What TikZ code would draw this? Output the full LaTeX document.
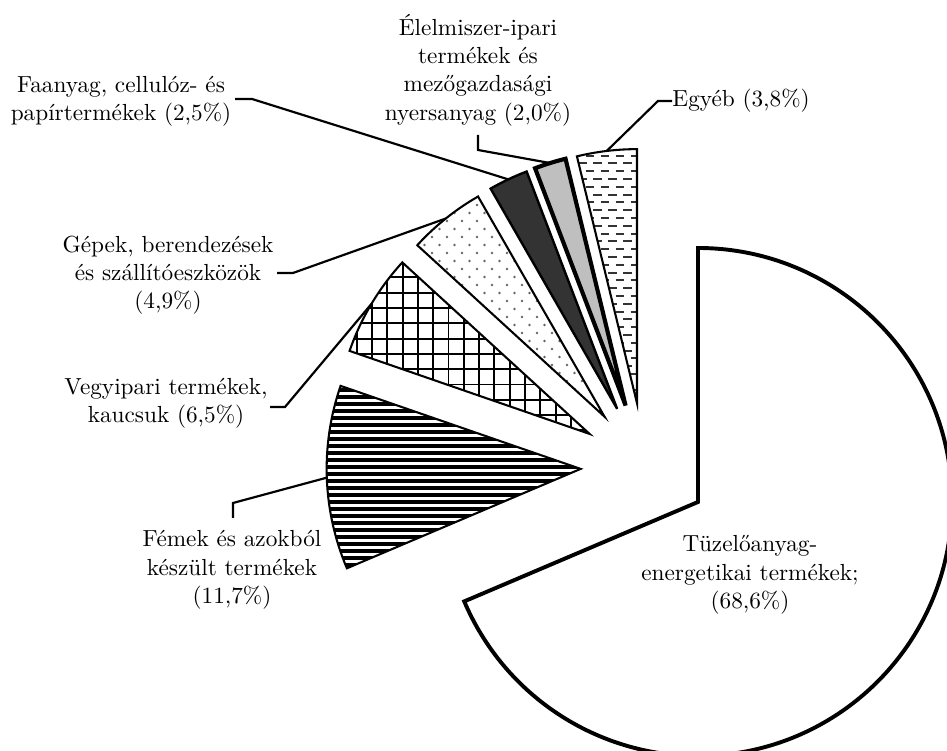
\documentclass[tikz,border=0pt]{standalone}
\usetikzlibrary{calc}
\begin{document}
\begin{tikzpicture}[x=0.46pt,y=0.46pt,
  slice/.style={draw=black,line width=0.95pt,line join=miter},
  bigslice/.style={draw=black,fill=white,line width=1.8pt,line join=miter},
  thickslice/.style={draw=black,line width=1.9pt,line join=miter},
  leader/.style={draw=black,line width=1.0pt},
  lbl/.style={align=center,inner sep=0pt,font=\fontsize{10.7}{13}\selectfont},
  stripe/.style={draw=black,line width=1.4pt},
  gridline/.style={draw=black,line width=0.9pt},
  egdash/.style={draw=black!80,line width=0.95pt},
  dotfill/.style={fill=black!60}]
\useasboundingbox (0,0) rectangle (947,751);
\clip (0,0) rectangle (947,751);
\def\R{116.84pt}
\coordinate (C) at (644.6,284.3);
% apexes of the exploded slices
\coordinate (a1) at ($(C)+(-33.48:64)$);
\coordinate (a2) at ($(C)+(181.98:64)$);
\coordinate (a3) at ($(C)+(149.22:64)$);
\coordinate (a4) at ($(C)+(128.70:64)$);
\coordinate (a5) at ($(C)+(115.38:64)$);
\coordinate (a6) at ($(C)+(107.28:64)$);
\coordinate (a7) at ($(C)+(96.84:64)$);
% arc midpoints
\coordinate (m2) at ($(a2)+(181.98:254)$);
\coordinate (m3) at ($(a3)+(149.22:254)$);
\coordinate (m4) at ($(a4)+(128.70:254)$);
\coordinate (m5) at ($(a5)+(115.38:254)$);
\coordinate (m6) at ($(a6)+(107.28:254)$);
\coordinate (m7) at ($(a7)+(96.84:254)$);

% 1 big slice
\draw[bigslice] (a1) -- ++(90:254) arc[start angle=90,end angle=-156.96,radius=\R] -- cycle;

% 2 Femek: horizontal stripes
\begin{scope}
\clip (a2) -- ++(160.92:254) arc[start angle=160.92,end angle=203.04,radius=\R] -- cycle;
\fill[white] (300,150) rectangle (620,400);
\foreach \k in {0,...,34} \draw[stripe] (300,{172+7*\k}) -- (620,{172+7*\k});
\end{scope}
\draw[slice] (a2) -- ++(160.92:254) arc[start angle=160.92,end angle=203.04,radius=\R] -- cycle;

% 3 Vegyipari: grid
\begin{scope}
\clip (a3) -- ++(137.52:254) arc[start angle=137.52,end angle=160.92,radius=\R] -- cycle;
\fill[white] (330,290) rectangle (620,510);
\foreach \k in {0,...,18} \draw[gridline] ({341.4+15.3*\k},290) -- ({341.4+15.3*\k},510);
\foreach \k in {0,...,14} \draw[gridline] (330,{290+15.3*\k}) -- (620,{290+15.3*\k});
\end{scope}
\draw[slice] (a3) -- ++(137.52:254) arc[start angle=137.52,end angle=160.92,radius=\R] -- cycle;

% 4 Gepek: dots
\begin{scope}
\clip (a4) -- ++(119.88:254) arc[start angle=119.88,end angle=137.52,radius=\R] -- cycle;
\fill[white] (400,320) rectangle (630,570);
\foreach \r in {0,...,31} \foreach \c in {0,...,15}
  \fill[dotfill] ({402+15*\c+7.5*mod(\r,2)},{322+8*\r}) circle[radius=0.6pt];
\end{scope}
\draw[slice] (a4) -- ++(119.88:254) arc[start angle=119.88,end angle=137.52,radius=\R] -- cycle;

% 5 Faanyag: dark grey
\draw[slice,fill=black!80,line width=1.1pt] (a5) -- ++(110.88:254) arc[start angle=110.88,end angle=119.88,radius=\R] -- cycle;

% 6 Elelmiszer: light grey, thick border
\draw[thickslice,fill=black!25] (a6) -- ++(103.68:254) arc[start angle=103.68,end angle=110.88,radius=\R] -- cycle;

% 7 Egyeb: dashes
\begin{scope}
\clip (a7) -- ++(90:254) arc[start angle=90,end angle=103.68,radius=\R] -- cycle;
\fill[white] (560,330) rectangle (660,620);
\foreach \r in {0,...,36} \foreach \c in {0,...,6}
  \draw[egdash] ({563+15*\c+7.5*mod(\r,2)},{338+7.8*\r}) -- ++(8.5,0);
\end{scope}
\draw[slice] (a7) -- ++(90:254) arc[start angle=90,end angle=103.68,radius=\R] -- cycle;

% labels
\node[lbl] (tuz) at (750,176) {Tüzelőanyag-\\energetikai termékek;\\(68,6\%)};
\node[lbl] (fem) at (232,181) {Fémek és azokból\\készült termékek\\(11,7\%)};
\node[lbl] (veg) at (166,348) {Vegyipari termékek,\\kaucsuk (6,5\%)};
\node[lbl] (gep) at (168,476) {Gépek, berendezések\\és szállítóeszközök\\(4,9\%)};
\node[lbl] (faa) at (121,650) {Faanyag, cellulóz- és\\papírtermékek (2,5\%)};
\node[lbl] (ele) at (478,681) {Élelmiszer-ipari\\termékek és\\mezőgazdasági\\nyersanyag (2,0\%)};
\node[lbl,anchor=west] (egy) at (672,650) {Egyéb (3,8\%)};

% leader lines
\coordinate (k2) at (233,248); \coordinate (t2) at (233,233);
\coordinate (k3) at (285,344); \coordinate (t3) at (270,344);
\coordinate (k4) at (293,478); \coordinate (t4) at (277,478);
\coordinate (k5) at (252,652); \coordinate (t5) at (235,652);
\coordinate (k6) at (478,601); \coordinate (t6) at (478,616);
\coordinate (k7) at (658,650);
\draw[leader] (m2) -- (k2) -- (t2);
\draw[leader] (m3) -- (k3) -- (t3);
\draw[leader] (m4) -- (k4) -- (t4);
\draw[leader] (m5) -- (k5) -- (t5);
\draw[leader] (m6) -- (k6) -- (t6);
\draw[leader] (m7) -- (k7) -- (egy.west);
\end{tikzpicture}
\end{document}
